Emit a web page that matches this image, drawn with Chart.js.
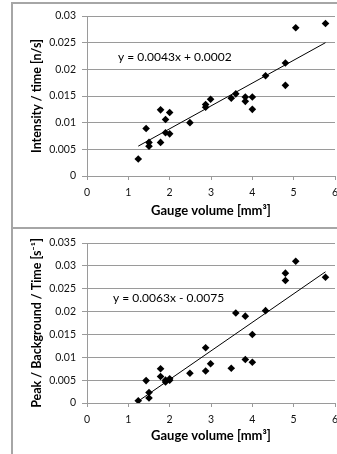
<!DOCTYPE html>
<html>
<head>
<meta charset="utf-8">
<script src="https://cdn.jsdelivr.net/npm/chart.js@4.4.0/dist/chart.umd.min.js"></script>
<style>
body { margin: 0; width: 337px; height: 454px; overflow: hidden; position: relative; background: #fff; }
.wrap { position: absolute; left: 0; width: 350px; }
.frame { position: absolute; border: 2px solid #a6a6a6; pointer-events: none; }
</style>
</head>
<body>
<div class="wrap" style="top:0;height:228px"><canvas id="topChart" width="350" height="228"></canvas></div>
<div class="wrap" style="top:229px;height:225px"><canvas id="bottomChart" width="350" height="225"></canvas></div>
<div class="frame" style="left:11px;top:2px;width:340px;height:223px"></div>
<div class="frame" style="left:11px;top:227px;width:340px;height:240px"></div>
<script>
// Gauge volume [mm3], same samples in both panels
const gaugeVolume = [1.24, 1.43, 1.5, 1.5, 1.78, 1.78, 1.9, 1.9, 2.0, 2.0, 2.49, 2.87, 2.87, 2.99,
    3.49, 3.6, 3.83, 3.83, 4.0, 4.0, 4.32, 4.8, 4.8, 5.05, 5.77];

// Intensity / time [n/s]
const intensity = [0.0032, 0.0089, 0.0063, 0.0056, 0.0124, 0.0063, 0.0106, 0.0081, 0.0119, 0.0079,
    0.0100, 0.0134, 0.0129, 0.0144, 0.0146, 0.0154, 0.0148, 0.0140, 0.0148, 0.0125,
    0.0188, 0.0212, 0.0170, 0.0278, 0.0286];

// Peak / Background / Time [s-1]
const peakBg = [0.0005, 0.0049, 0.0023, 0.0011, 0.0075, 0.0058, 0.0050, 0.0046, 0.0053, 0.0050,
    0.0065, 0.0121, 0.0070, 0.0086, 0.0076, 0.0197, 0.0190, 0.0095, 0.0150, 0.0089,
    0.0202, 0.0284, 0.0268, 0.0310, 0.0275];

// trendline end points
const trendX = [1.24, 5.77];
const intensityTrend = [0.0056, 0.0250];
const peakBgTrend = [0.0004, 0.0287];

const xTicks = [0, 1, 2, 3, 4, 5, 6];
const intensityEq = "y = 0.0043x + 0.0002";
const peakBgEq = "y = 0.0063x - 0.0075";

const FONT = "Lato, 'Open Sans', sans-serif";
const GRID = "#9a9a9a";
Chart.defaults.color = "#111";
Chart.defaults.font.family = FONT;

// trendline equation text
const eqLabel = {
    id: "eqLabel",
    afterDatasetsDraw(chart, args, opts) {
        const { ctx, scales: { x, y } } = chart;
        ctx.save();
        ctx.font = "12px " + FONT;
        ctx.fillStyle = "#000";
        ctx.textBaseline = "middle";
        ctx.fillText(opts.text, x.getPixelForValue(opts.x), y.getPixelForValue(opts.y));
        ctx.restore();
    }
};

function toPoints(xs, ys) {
    return xs.map((v, i) => ({ x: v, y: ys[i] }));
}

function drawPanel(id, ys, trend, yMax, yTitle, eq, eqPos, padTop, xHeight, xTitlePad) {
    return new Chart(document.getElementById(id), {
        type: "scatter",
        data: {
            datasets: [
                {
                    data: toPoints(gaugeVolume, ys),
                    pointStyle: "rectRot",
                    pointRadius: 3.8,
                    pointBackgroundColor: "#000",
                    pointBorderWidth: 0
                },
                {
                    type: "line",
                    data: toPoints(trendX, trend),
                    borderColor: "#000",
                    borderWidth: 1,
                    pointRadius: 0,
                    fill: false
                }
            ]
        },
        options: {
            responsive: false,
            animation: false,
            layout: { padding: { top: padTop, right: 15, left: 0, bottom: 0 } },
            plugins: {
                legend: { display: false },
                tooltip: { enabled: false },
                eqLabel: { text: eq, x: eqPos[0], y: eqPos[1] }
            },
            scales: {
                x: {
                    type: "linear",
                    min: 0,
                    max: 6,
                    afterBuildTicks: s => { s.ticks = xTicks.map(v => ({ value: v })); },
                    afterFit: s => { s.height = xHeight; },
                    grid: { drawOnChartArea: false, color: GRID, tickLength: 4 },
                    border: { color: GRID },
                    ticks: { font: { size: 10.5 }, padding: 6, maxRotation: 0 },
                    title: {
                        display: true,
                        text: "Gauge volume [mm³]",
                        color: "#000",
                        font: { size: 13, weight: "bold" },
                        padding: { top: 0, bottom: xTitlePad }
                    }
                },
                y: {
                    min: 0,
                    max: yMax,
                    ticks: {
                        stepSize: 0.005,
                        font: { size: 10.5 },
                        padding: 6,
                        callback: v => String(+v.toFixed(3))
                    },
                    afterFit: s => { s.width = 87; },
                    grid: { color: GRID, tickLength: 5 },
                    border: { color: GRID },
                    title: {
                        display: true,
                        text: yTitle,
                        color: "#000",
                        font: { size: 12.5, weight: "bold" },
                        padding: { top: 29, bottom: 0 }
                    }
                }
            }
        },
        plugins: [eqLabel]
    });
}

drawPanel("topChart", intensity, intensityTrend, 0.03, "Intensity / time [n/s]",
    intensityEq, [0.75, 0.0223], 16, 52, 9);
drawPanel("bottomChart", peakBg, peakBgTrend, 0.035, "Peak / Background / Time [s⁻¹]",
    peakBgEq, [0.63, 0.0230], 14, 51, 10);
</script>
</body>
</html>
